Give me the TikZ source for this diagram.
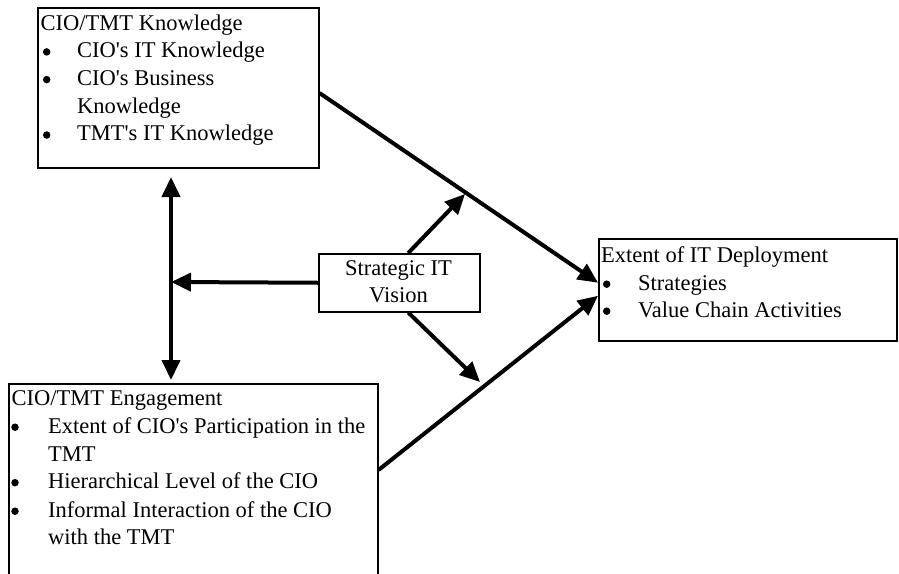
\documentclass[tikz,border=0pt]{standalone}
\usepackage{fontspec}
\setmainfont{Liberation Serif}[Ligatures=TeXOff]
\usetikzlibrary{arrows.meta}
\tikzset{
  box/.style={draw, line width=1.5pt, inner sep=0pt, anchor=north west},
  txt/.style={anchor=base west, inner sep=0pt, font=\fontsize{22.5}{27.7}\selectfont},
  ctxt/.style={anchor=base, inner sep=0pt, font=\fontsize{22.5}{27.7}\selectfont},
  bul/.style={circle, fill, inner sep=0pt, minimum size=7.5pt},
  conn/.style={line width=4pt, -{Triangle[length=20pt,width=18pt]}},
  dconn/.style={line width=4pt, {Triangle[length=20pt,width=18pt]}-{Triangle[length=20pt,width=18pt]}}
}
\begin{document}
\begin{tikzpicture}[x=1pt,y=-1pt]
\useasboundingbox (0,0) rectangle (899,573);
\clip (0,0) rectangle (899,573);
% boxes
\node[box, minimum width=281pt, minimum height=160pt] (know) at (37,7) {};
\node[box, minimum width=161pt, minimum height=58pt] (vision) at (318,253) {};
\node[box, minimum width=298pt, minimum height=102pt] (extent) at (598,238) {};
\node[box, minimum width=369pt, minimum height=220pt] (engage) at (8,383) {};
% knowledge text
\node[txt] (k0) at (40.5,30) {CIO/TMT Knowledge};
\node[bul] (kb1) at (46.7,51.9) {};
\node[txt] (k1) at (77,57.7) {CIO's IT Knowledge};
\node[bul] (kb2) at (46.7,79.6) {};
\node[txt] (k2) at (77,85.4) {CIO's Business};
\node[txt] (k2b) at (77,113) {Knowledge};
\node[bul] (kb3) at (46.7,135) {};
\node[txt] (k3) at (77,140.8) {TMT's IT Knowledge};
% vision text
\node[ctxt] (v1) at (398.5,275) {Strategic IT};
\node[ctxt] (v2) at (398.5,302) {Vision};
% extent text
\node[txt] (e0) at (601,262) {Extent of IT Deployment};
\node[bul] (eb1) at (606.7,284.2) {};
\node[txt] (e1) at (638,290) {Strategies};
\node[bul] (eb2) at (606.7,311.2) {};
\node[txt] (e2) at (638,317) {Value Chain Activities};
% engagement text
\node[txt] (g0) at (11.5,405) {CIO/TMT Engagement};
\node[bul] (gb1) at (15,427.2) {};
\node[txt] (g1) at (48,433) {Extent of CIO's Participation in the};
\node[txt] (g1b) at (48,461) {TMT};
\node[bul] (gb2) at (15,482.7) {};
\node[txt] (g2) at (48,488.5) {Hierarchical Level of the CIO};
\node[bul] (gb3) at (15,511.2) {};
\node[txt] (g3) at (48,517) {Informal Interaction of the CIO};
\node[txt] (g3b) at (48,544) {with the TMT};
% junction coordinates
\coordinate (vt) at (171,177);
\coordinate (vb) at (171,380);
\coordinate (vm) at (171,282);
\coordinate (m1) at (465,194);
\coordinate (m2) at (480,382);
% connectors
\draw[conn] ([yshift=-86pt]know.north east) -- ([yshift=7pt]extent.west);
\draw[conn] ([yshift=-87pt]engage.north east) -- ([yshift=-6pt]extent.west);
\draw[conn] ([xshift=9pt]vision.north) -- (m1);
\draw[conn] ([xshift=9pt]vision.south) -- (m2);
\draw[conn] (vision.west) -- (vm);
\draw[dconn] (vt) -- (vb);
\end{tikzpicture}
\end{document}
